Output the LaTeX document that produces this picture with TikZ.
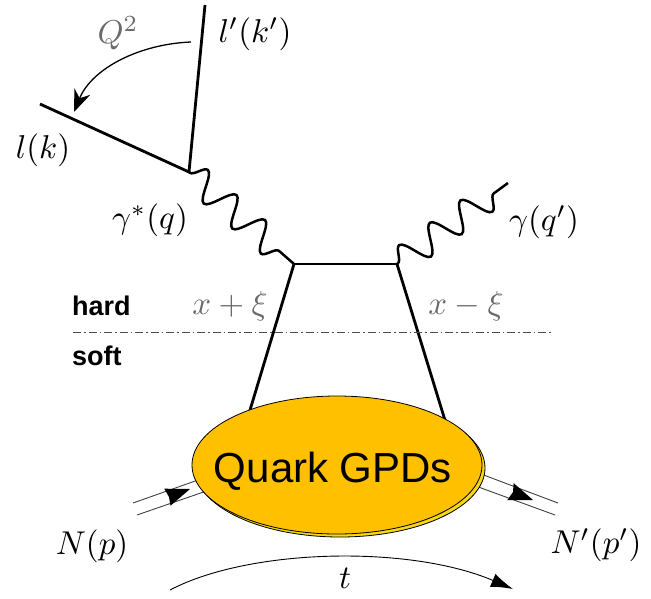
\documentclass[tikz,border=0pt]{standalone}
\usepackage{graphicx}
\usepackage{fontspec}
\newfontfamily\arialfont{Liberation Sans}
\usetikzlibrary{decorations.pathmorphing,arrows.meta,shapes.geometric}
\definecolor{gpdfill}{RGB}{255,192,0}
\definecolor{gpdshadow}{RGB}{250,215,20}
\definecolor{labgray}{gray}{0.42}
\newcommand{\diaglab}[1]{\scalebox{3.3}{$#1$}}
\tikzset{
  fermion/.style={line width=2.8pt},
  photon/.style={line width=2.5pt, decorate, decoration={snake, amplitude=14pt, segment length=38pt, pre length=1pt, post length=1pt}},
  nucleon/.style={line width=0.9pt, draw=black!75},
  tiphead/.style={fill=black},
  mathlab/.style={inner sep=0pt},
  sidelab/.style={font=\arialfont\bfseries\fontsize{27}{30}\selectfont, inner sep=0pt, anchor=base west},
}
\begin{document}
\begin{tikzpicture}[x=1pt,y=-1pt]
\useasboundingbox (0,0) rectangle (651,598);
% vertices
\coordinate (lout) at (205,5);
\coordinate (lin) at (40,104);
\coordinate (v) at (189,172);
\coordinate (b1) at (294,264);
\coordinate (b2) at (397,264);
\coordinate (gout) at (508,183);
\coordinate (q1) at (244,430);
\coordinate (q2) at (448,430);
% leptons
\draw[fermion] (lout) -- (v) -- (lin);
% photons
\draw[photon] (v) -- (b1);
\draw[photon] (b2) -- (gout);
% quark box
\draw[fermion] (b1) -- (b2);
\draw[fermion] (b1) -- (q1);
\draw[fermion] (b2) -- (q2);
% Q^2 arrow
\coordinate (qa) at (191,42);
\coordinate (qb) at (74,112);
\draw[line width=1.3pt, -{Stealth[length=22pt,width=17pt]}] (qa) .. controls (140,44) and (92,68) .. (qb);
% hard/soft separation
\coordinate (hs1) at (73,332);
\coordinate (hs2) at (551,332);
\draw[line width=0.8pt, black!70, dash pattern=on 8pt off 3pt on 1.5pt off 3pt] (hs1) -- (hs2);
% nucleons
\coordinate (nl1) at (133,503); \coordinate (nl1e) at (215,474);
\coordinate (nl2) at (137,515); \coordinate (nl2e) at (218,487);
\coordinate (nr1e) at (558,503); \coordinate (nr1) at (465,468);
\coordinate (nr2e) at (555,515); \coordinate (nr2) at (462,481);
\draw[nucleon] (nl1) -- (nl1e);
\draw[nucleon] (nl2) -- (nl2e);
\draw[nucleon] (nr1) -- (nr1e);
\draw[nucleon] (nr2) -- (nr2e);
\fill[tiphead] (190,489) -- (164.3,488.7) -- (169,497) -- (170.5,505.7) -- cycle;
\fill[tiphead] (533,500) -- (513.6,483.1) -- (513,492) -- (507.3,500.1) -- cycle;
% blob
\node[ellipse, draw=black, line width=0.8pt, fill=gpdshadow, minimum width=290pt, minimum height=138pt, inner sep=0pt] (shadow) at (340,468) {};
\node[ellipse, draw=black, line width=0.8pt, fill=gpdfill, minimum width=290pt, minimum height=138pt, inner sep=0pt] (blob) at (337,465) {};
\node[font=\arialfont\fontsize{42}{46}\selectfont, inner sep=0pt, anchor=base] (gpd) at (333,482) {Quark GPDs};
% t arrow
\coordinate (t1) at (170,590);
\coordinate (t2) at (513,589);
\draw[line width=0.9pt, black!75, -{Latex[length=22pt,width=14pt]}, black] (t1) .. controls (250,548) and (410,545) .. (t2);
% labels
\node[mathlab] (llp) at (255,34) {\diaglab{l'(k')}};
\node[mathlab] (ll) at (43,150) {\diaglab{l(k)}};
\node[mathlab, text=labgray] (lq) at (118,33) {\diaglab{Q^2}};
\node[mathlab] (lgs) at (150,220) {\diaglab{\gamma^*(q)}};
\node[mathlab] (lg) at (544,222) {\diaglab{\gamma(q')}};
\node[mathlab, text=labgray] (lxp) at (230,306) {\diaglab{x+\xi}};
\node[mathlab, text=labgray] (lxm) at (466,306) {\diaglab{x-\xi}};
\node[mathlab] (lnp) at (92,546) {\diaglab{N(p)}};
\node[mathlab] (lnpp) at (596,545) {\diaglab{N'(p')}};
\node[mathlab] (lt) at (345,578) {\diaglab{t}};
\node[sidelab] (lhard) at (72,315) {hard};
\node[sidelab] (lsoft) at (72,365) {soft};
\end{tikzpicture}
\end{document}
